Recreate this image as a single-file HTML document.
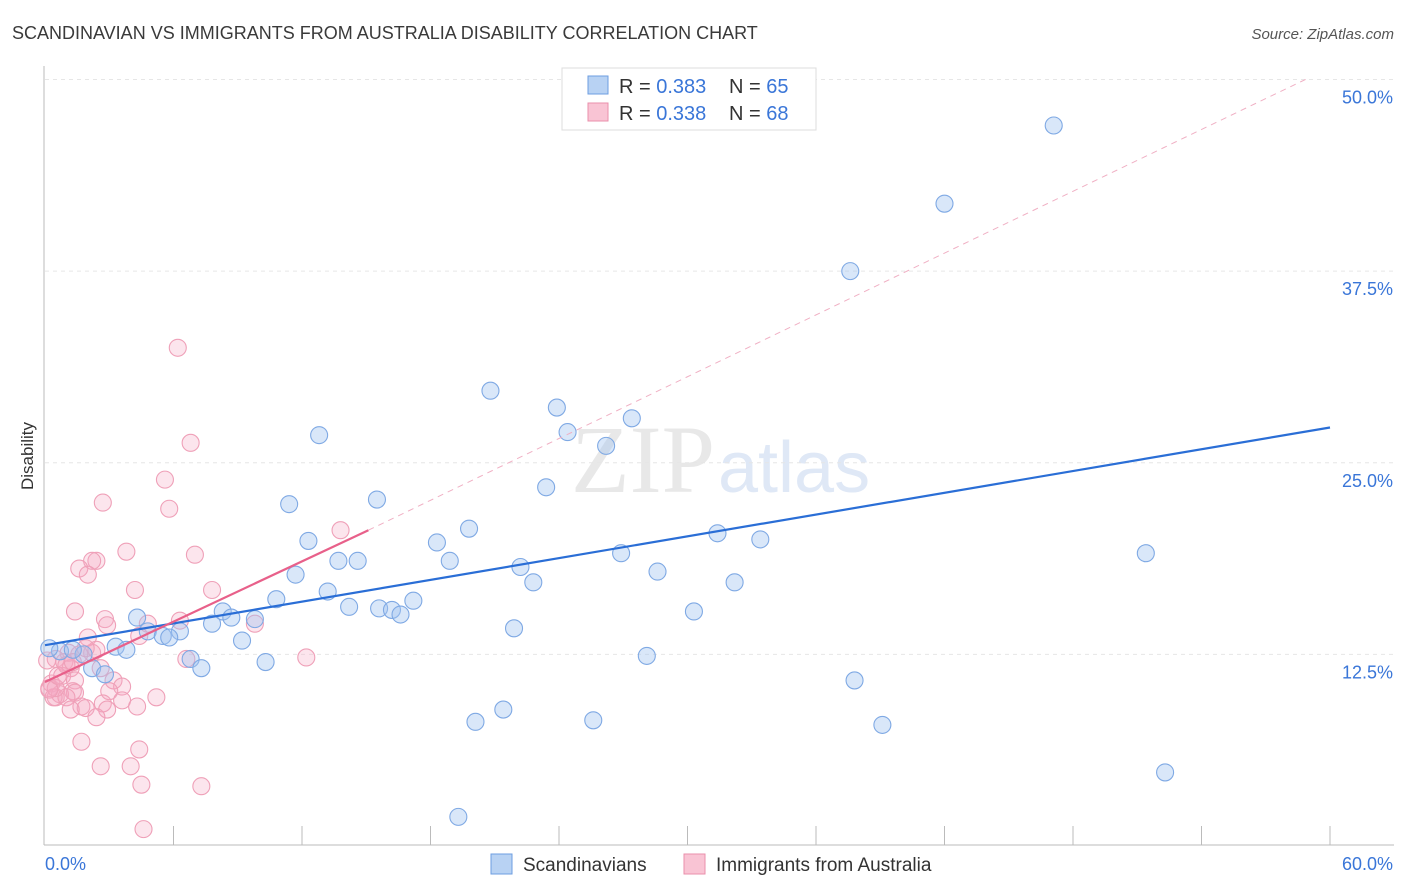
<!DOCTYPE html>
<html><head><meta charset="utf-8"><style>
body{margin:0;background:#fff;font-family:"Liberation Sans",sans-serif}
</style></head><body>
<svg id="c" width="1406" height="892" style="display:block">
<text x="12" y="39" font-size="18" fill="#3a3a3a">SCANDINAVIAN VS IMMIGRANTS FROM AUSTRALIA DISABILITY CORRELATION CHART</text>
<text x="1394" y="39" font-size="15" fill="#555" font-style="italic" text-anchor="end">Source: ZipAtlas.com</text>
<text x="33" y="456" font-size="17" fill="#333" transform="rotate(-90 33 456)" text-anchor="middle">Disability</text>
<text x="715" y="492" font-size="96" fill="#e8e8e8" text-anchor="end" font-family="Liberation Serif">ZIP</text>
<text x="718" y="492" font-size="72" fill="#dfe8f6">atlas</text>
<g id="grid"></g><g id="pts"></g><g id="lines"></g>
<g>
<rect x="562" y="68" width="254" height="62" fill="#fff" stroke="#ddd"/>
<rect x="588" y="76" width="20" height="18" fill="#b8d2f3" stroke="#6d9ee0"/>
<rect x="588" y="103" width="20" height="18" fill="#f9c4d4" stroke="#ea8fab"/>
<text x="619" y="93" font-size="20" fill="#333">R = <tspan fill="#3a76d8">0.383</tspan></text>
<text x="729" y="93" font-size="20" fill="#333">N = <tspan fill="#3a76d8">65</tspan></text>
<text x="619" y="120" font-size="20" fill="#333">R = <tspan fill="#3a76d8">0.338</tspan></text>
<text x="729" y="120" font-size="20" fill="#333">N = <tspan fill="#3a76d8">68</tspan></text>
</g>
<g>
<rect x="491" y="854" width="21" height="20" fill="#b8d2f3" stroke="#6d9ee0"/>
<text x="523" y="871" font-size="19" fill="#333">Scandinavians</text>
<rect x="684" y="854" width="21" height="20" fill="#f9c4d4" stroke="#ea8fab"/>
<text x="716" y="871" font-size="19" fill="#333">Immigrants from Australia</text>
</g>
</svg>
<script>
const yTicks=[12.5,25,37.5,50];
const yTickLabels=["12.5%","25.0%","37.5%","50.0%"];
const xTicks=[0,6,12,18,24,30,36,42,48,54,60];
const blueX=[47.1,42.0,37.6,20.8,23.9,27.4,24.4,12.8,26.2,23.4,15.5,11.4,19.8,31.4,33.4,12.3,18.3,13.7,14.6,18.9,26.9,22.2,11.7,28.6,32.2,22.8,51.4,13.2,10.8,17.2,14.2,15.6,16.2,16.6,30.3,8.3,8.7,9.8,7.8,4.3,4.8,5.5,6.3,5.8,9.2,21.9,3.3,3.8,0.7,1.8,1.3,0.2,6.8,28.1,7.3,10.3,2.2,2.8,37.8,20.1,21.4,25.6,39.1,52.3,19.3];
const blueY=[47.0,41.9,37.5,29.7,28.6,27.9,27.0,26.8,26.1,23.4,22.6,22.3,20.7,20.4,20.0,19.9,19.8,18.6,18.6,18.6,19.1,18.2,17.7,17.9,17.2,17.2,19.1,16.6,16.1,16.0,15.6,15.5,15.4,15.1,15.3,15.3,14.9,14.8,14.5,14.9,14.0,13.7,14.0,13.6,13.4,14.2,13.0,12.8,12.7,12.5,12.8,12.9,12.2,12.4,11.6,12.0,11.6,11.2,10.8,8.1,8.9,8.2,7.9,4.8,1.9];
const pinkX=[6.2,6.8,5.6,5.8,2.7,13.8,3.8,7.0,2.4,2.2,1.6,2.0,4.2,7.8,1.4,2.8,4.8,6.3,2.9,9.8,2.0,4.4,1.1,2.2,6.6,12.2,2.4,1.6,0.5,0.9,0.1,2.6,1.2,0.8,1.4,3.2,0.3,0.2,3.6,1.3,1.4,3.0,5.2,0.7,0.5,0.4,1.0,3.6,1.7,1.9,2.7,4.3,1.2,2.9,2.4,1.7,4.4,2.6,4.0,4.5,7.3,4.6,0.5,0.2,0.6,1.0,1.3,1.9];
const pinkY=[32.5,26.3,23.9,22.0,22.4,20.6,19.2,19.0,18.6,18.6,18.1,17.7,16.7,16.7,15.3,14.8,14.5,14.7,14.4,14.5,13.6,13.7,12.6,12.6,12.2,12.3,12.8,12.5,12.2,12.0,12.1,11.6,11.6,11.1,10.8,10.8,10.6,10.3,10.4,10.1,10.0,10.1,9.7,9.9,9.7,9.7,9.7,9.5,9.1,9.0,9.3,9.1,8.9,8.9,8.4,6.8,6.3,5.2,5.2,4.0,3.9,1.1,10.3,10.2,11.1,11.8,12.0,12.9];
const blueLine=[[0,13.1],[60,27.3]];
const pinkLine=[[0,10.7],[15.1,20.6]];
const pinkDash=[[15.1,20.6],[59,50.1]];
const X=v=>45+v/60*1285, Y=v=>846-v*15.33;
const NS="http://www.w3.org/2000/svg";
function mk(t,a,p){const e=document.createElementNS(NS,t);for(const k in a)e.setAttribute(k,a[k]);p.appendChild(e);return e;}
const g=document.getElementById('grid');
const ax=mk('line',{x1:44,y1:66,x2:44,y2:845,stroke:'#bbb'},g);

const bx=mk('line',{x1:44,y1:845,x2:1394,y2:845,stroke:'#bbb'},g);

yTicks.forEach((t,i)=>{
 const l=mk('line',{x1:45,x2:1394,y1:Y(t),y2:Y(t),stroke:'#e6e6e6','stroke-dasharray':'4,4'},g);
 
 const tx=mk('text',{x:1393,y:Y(t)+24,'font-size':18,fill:'#3a76d8','text-anchor':'end'},g);tx.textContent=yTickLabels[i];
 
});
xTicks.forEach((t,i)=>{if(i==0)return;
 const l=mk('line',{x1:X(t),x2:X(t),y1:826,y2:845,stroke:'#bbb'},g);
 });
const t0=mk('text',{x:45,y:870,'font-size':18,fill:'#3a76d8'},g);t0.textContent='0.0%';

const t1=mk('text',{x:1393,y:870,'font-size':18,fill:'#3a76d8','text-anchor':'end'},g);t1.textContent='60.0%';

const P=document.getElementById('pts');
pinkX.forEach((x,i)=>{const c=mk('circle',{cx:X(x),cy:Y(pinkY[i]),r:8.5,fill:'rgba(245,170,195,0.3)',stroke:'#efa0b8','stroke-width':1.1},P);
 });
blueX.forEach((x,i)=>{const c=mk('circle',{cx:X(x),cy:Y(blueY[i]),r:8.5,fill:'rgba(160,195,240,0.4)',stroke:'#7fa9e4','stroke-width':1.1},P);
 });
const L=document.getElementById('lines');
const dl=mk('line',{x1:X(pinkDash[0][0]),y1:Y(pinkDash[0][1]),x2:X(pinkDash[1][0]),y2:Y(pinkDash[1][1]),stroke:'#f0b0c4','stroke-width':1,'stroke-dasharray':'6,5'},L);

const bl=mk('line',{x1:X(blueLine[0][0]),y1:Y(blueLine[0][1]),x2:X(blueLine[1][0]),y2:Y(blueLine[1][1]),stroke:'#2a6ed6','stroke-width':2.2},L);

const pl=mk('line',{x1:X(pinkLine[0][0]),y1:Y(pinkLine[0][1]),x2:X(pinkLine[1][0]),y2:Y(pinkLine[1][1]),stroke:'#e8608a','stroke-width':2.2},L);

</script>
</body></html>
